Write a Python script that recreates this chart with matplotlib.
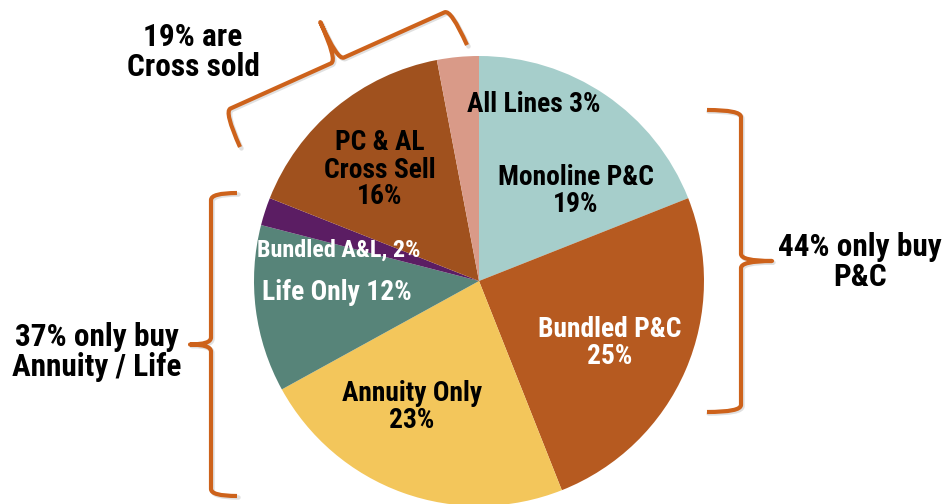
import matplotlib
matplotlib.use("Agg")
import matplotlib.pyplot as plt
from matplotlib.path import Path
from matplotlib.patches import PathPatch
from matplotlib import font_manager
import numpy as np

# ---- data ----
categories = ["Monoline P&C", "Bundled P&C", "Annuity Only", "Life Only",
              "Bundled A&L", "PC & AL Cross Sell", "All Lines"]
values = [19, 25, 23, 12, 2, 16, 3]
slice_labels = ["Monoline P&C\n19%", "Bundled P&C\n25%", "Annuity Only\n23%",
                "Life Only 12%", "Bundled A&L, 2%", "PC & AL\nCross Sell\n16%",
                "All Lines 3%"]
group_labels = ["19% are\nCross sold", "44% only buy\nP&C", "37% only buy\nAnnuity / Life"]

# ---- style ----
colors = ["#A6CECB", "#B65A20", "#F3C65B", "#578479", "#5B1D63", "#A0511E", "#D99A88"]
text_colors = ["black", "white", "black", "white", "white", "black", "black"]
label_pos_px = [(576, 191), (610, 343), (412, 407), (337, 292), (339, 250),
                (380, 170), (534, 104)]
group_pos_px = [(193, 52), (860, 262), (97, 352)]
brace_color = "#CD621B"

names = {f.name for f in font_manager.fontManager.ttflist}
narrow = None
for cand in ["Liberation Sans Narrow", "Arial Narrow", "Roboto Condensed",
             "Open Sans Condensed", "DejaVu Sans Condensed"]:
    if cand in names:
        narrow = cand
        break
condensed_stretch = False
if narrow is None:
    for f in font_manager.fontManager.ttflist:
        if f.name == "DejaVu Sans" and "Condensed" in f.fname:
            condensed_stretch = True
            break
    narrow = "DejaVu Sans"
FONT = [narrow, "DejaVu Sans"]
SCALE = 1.0 if narrow != "DejaVu Sans" or condensed_stretch else 0.86
STRETCH = "condensed"

W, H = 947, 504
fig = plt.figure(figsize=(W / 100, H / 100), dpi=100)
ax = fig.add_axes([0, 0, 1, 1])


def P(x, y):
    return (x, H - y)


cx, cy = P(479, 281)
ax.pie(values, colors=colors, startangle=90, counterclock=False,
       center=(cx, cy), radius=225, wedgeprops=dict(linewidth=0),
       frame=True)
ax.set_xlim(0, W)
ax.set_ylim(0, H)
ax.set_aspect("equal")
ax.axis("off")

for lab, (px, py), tc in zip(slice_labels, label_pos_px, text_colors):
    fs = 17.4 if lab.startswith("Bundled A&L") else 19.8
    ax.text(*P(px, py), lab, ha="center", va="center", fontsize=fs * SCALE,
            fontweight="bold", color=tc, family=FONT, fontstretch=STRETCH,
            linespacing=1.0)

for lab, (px, py) in zip(group_labels, group_pos_px):
    ax.text(*P(px, py), lab, ha="center", va="center", fontsize=22.5 * SCALE,
            fontweight="bold", color="black", family=FONT, fontstretch=STRETCH,
            linespacing=1.04)


def brace(start, end, h, t, outward_sign, r=7):
    s = np.array(P(*start), float)
    e = np.array(P(*end), float)
    d = e - s
    L = np.hypot(*d)
    u = d / L
    v = np.array([-u[1], u[0]]) * outward_sign

    def pt(a, b):
        return s + u * a + v * b

    verts = [pt(0, 0), pt(0, h), pt(r, h),
             pt(L / 2 - r, h), pt(L / 2, h), pt(L / 2, h + t),
             pt(L / 2, h), pt(L / 2 + r, h),
             pt(L - r, h), pt(L, h), pt(L, 0)]
    codes = [Path.MOVETO, Path.CURVE3, Path.CURVE3,
             Path.LINETO, Path.CURVE3, Path.CURVE3,
             Path.CURVE3, Path.CURVE3,
             Path.LINETO, Path.CURVE3, Path.CURVE3]
    path = Path(verts, codes)
    sh = PathPatch(path, fill=False, lw=3.2, color="#999999", alpha=0.3,
                   capstyle="round", joinstyle="round")
    sh.set_transform(ax.transData + matplotlib.transforms.Affine2D().translate(1.5, -1.5))
    ax.add_patch(sh)
    ax.add_patch(PathPatch(path, fill=False, lw=3.0, color=brace_color,
                           capstyle="butt", joinstyle="round"))


brace((707, 110), (707, 412), 34, 31, 1)
brace((237, 193), (237, 496), 26, 21, -1)
brace((240, 147), (467, 45), 39, 42, 1)

fig.savefig("out.png", dpi=100)
